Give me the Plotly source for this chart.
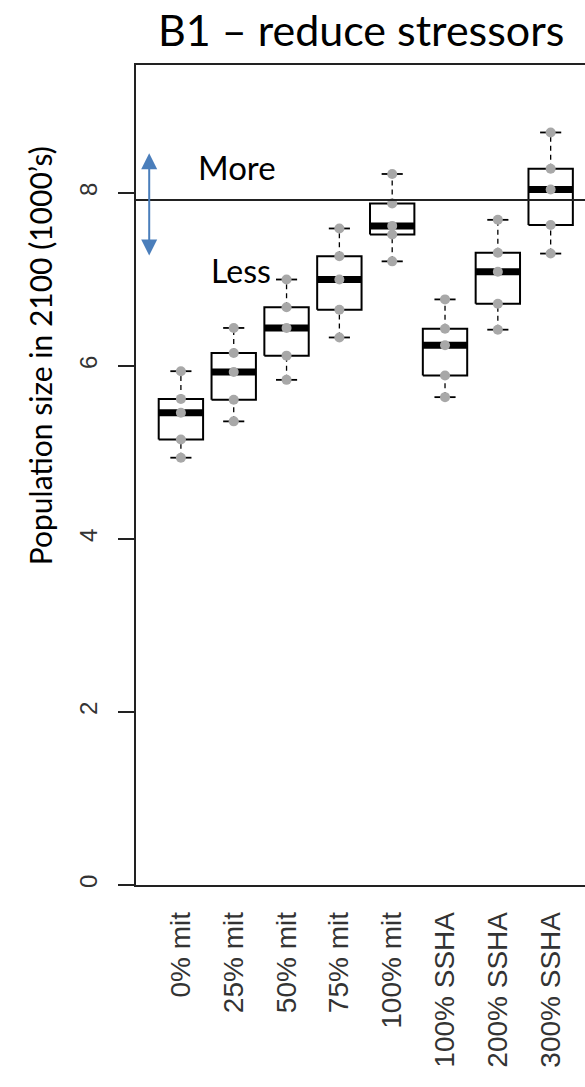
import plotly.graph_objects as go

# ---- data (population size in 2100, 1000's) ----
scenarios = ["0% mit", "25% mit", "50% mit", "75% mit", "100% mit",
             "100% SSHA", "200% SSHA", "300% SSHA"]
run_min = [4.94, 5.36, 5.84, 6.33, 7.21, 5.64, 6.42, 7.30]
run_q1 = [5.15, 5.61, 6.12, 6.65, 7.52, 5.89, 6.72, 7.63]
run_median = [5.46, 5.93, 6.44, 7.00, 7.62, 6.24, 7.09, 8.04]
run_q3 = [5.62, 6.15, 6.68, 7.27, 7.88, 6.43, 7.31, 8.28]
run_max = [5.94, 6.44, 7.00, 7.59, 8.22, 6.77, 7.69, 8.70]
reference_level = 7.92
y_ticks = [0, 2, 4, 6, 8]

# ---- styling ----
BOX_HALF = 0.42
CAP_HALF = 0.20
BIG_FONT = "Lato, Carlito, Calibri, sans-serif"
SMALL_FONT = "Liberation Sans, Arial, sans-serif"
ARROW_BLUE = "#4a7ebb"
GRAY = "#a8a8a8"

positions = list(range(1, len(scenarios) + 1))

fig = go.Figure()

for i, p in enumerate(positions):
    lo, q1, md, q3, hi = run_min[i], run_q1[i], run_median[i], run_q3[i], run_max[i]
    # dashed whiskers
    fig.add_trace(go.Scatter(
        x=[p, p, None, p, p], y=[lo, q1, None, q3, hi], mode="lines",
        line=dict(color="black", width=1.3, dash="5px,4px"),
        hoverinfo="skip", showlegend=False))
    # box
    fig.add_trace(go.Scatter(
        x=[p - BOX_HALF, p + BOX_HALF, p + BOX_HALF, p - BOX_HALF, p - BOX_HALF],
        y=[q1, q1, q3, q3, q1], mode="lines",
        line=dict(color="black", width=2),
        hoverinfo="skip", showlegend=False))
    # median
    fig.add_trace(go.Scatter(
        x=[p - BOX_HALF, p + BOX_HALF], y=[md, md], mode="lines",
        line=dict(color="black", width=7),
        hoverinfo="skip", showlegend=False))
    # whisker caps
    fig.add_trace(go.Scatter(
        x=[p - CAP_HALF, p + CAP_HALF, None, p - CAP_HALF, p + CAP_HALF],
        y=[lo, lo, None, hi, hi], mode="lines",
        line=dict(color="black", width=1.8),
        hoverinfo="skip", showlegend=False))

# individual runs (gray points)
px, py = [], []
for i, p in enumerate(positions):
    for v in (run_min[i], run_q1[i], run_median[i], run_q3[i], run_max[i]):
        px.append(p)
        py.append(v)
fig.add_trace(go.Scatter(
    x=px, y=py, mode="markers",
    marker=dict(color=GRAY, size=10, line=dict(width=0)),
    hoverinfo="skip", showlegend=False))

# reference line
fig.add_hline(y=reference_level, line=dict(color="#222222", width=2))

# double-headed arrow and labels
fig.add_annotation(
    x=0.40, y=8.46, ax=0.40, ay=7.26, xref="x", yref="y", axref="x", ayref="y",
    text="", showarrow=True, arrowside="end+start",
    arrowhead=2, startarrowhead=2, arrowsize=1.6, startarrowsize=1.6,
    arrowwidth=2, arrowcolor=ARROW_BLUE)
fig.add_annotation(x=2.06, y=8.30, xref="x", yref="y", text="More",
                   showarrow=False, font=dict(family=BIG_FONT, size=33, color="black"))
fig.add_annotation(x=2.14, y=7.11, xref="x", yref="y", text="Less",
                   showarrow=False, font=dict(family=BIG_FONT, size=32, color="black"))

# titles
fig.add_annotation(x=0.5, y=(885 - 30) / 820, xref="paper", yref="paper",
                   text="B1 \u2013 reduce stressors", showarrow=False,
                   xanchor="center", yanchor="middle",
                   font=dict(family=BIG_FONT, size=43, color="black"))
fig.add_annotation(x=-0.214, y=0.646, xref="paper", yref="paper",
                   text="Population size in 2100 (1000\u2019s)", textangle=-90,
                   showarrow=False, xanchor="center", yanchor="middle",
                   font=dict(family=BIG_FONT, size=30, color="black"))

fig.update_layout(
    width=585, height=1087,
    margin=dict(l=136, r=0, t=65, b=202),
    paper_bgcolor="white", plot_bgcolor="white",
    showlegend=False,
    xaxis=dict(
        range=[0.15, 8.65], tickmode="array", tickvals=positions, ticktext=scenarios,
        tickangle=-90, ticks="", showgrid=False, zeroline=False,
        showline=True, mirror=True, linecolor="#222222", linewidth=1.6,
        tickfont=dict(family=SMALL_FONT, size=28, color="#333333"),
        ticklabelstandoff=14),
    yaxis=dict(
        range=[0, 9.48], tickmode="array", tickvals=y_ticks,
        ticktext=[str(t) for t in y_ticks], tickangle=-90,
        ticks="outside", ticklen=16, tickwidth=1.6, tickcolor="#222222",
        showgrid=False, zeroline=False,
        showline=True, mirror=False, linecolor="#222222", linewidth=1.6,
        tickfont=dict(family=SMALL_FONT, size=24, color="#333333"),
        ticklabelstandoff=12),
)

fig.write_html("out.html")
